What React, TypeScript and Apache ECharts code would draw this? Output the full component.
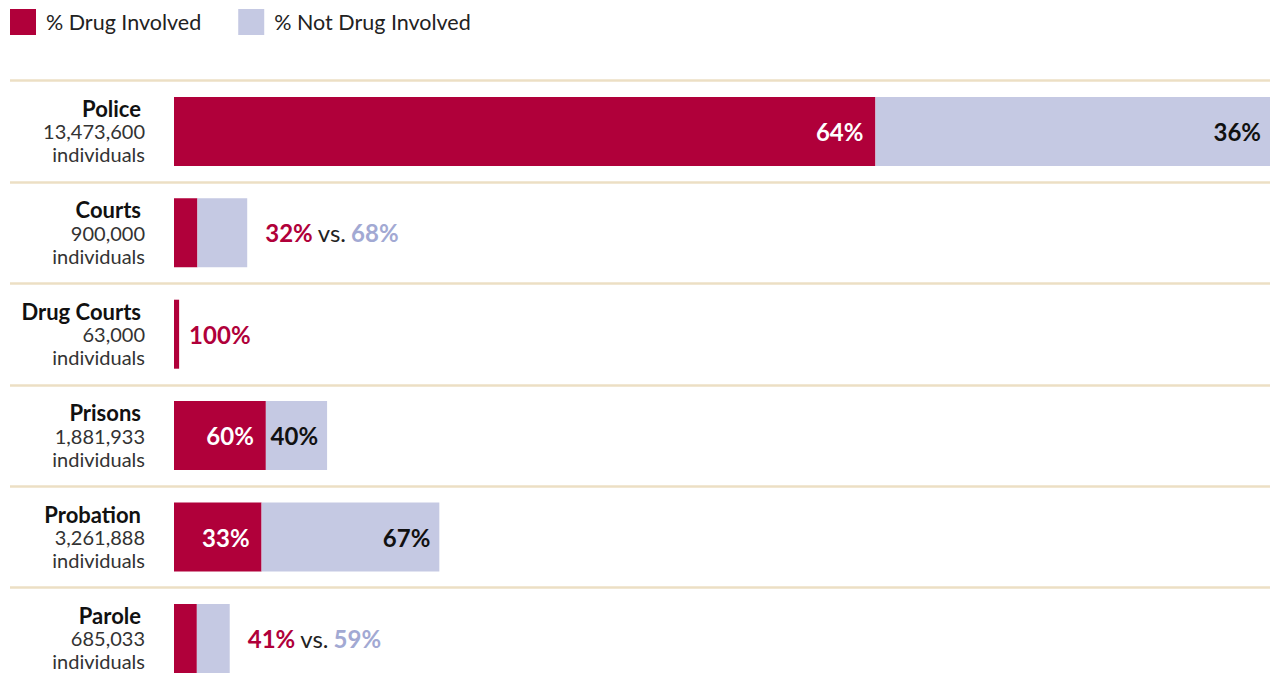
import React, { useEffect, useRef } from "react";
import * as echarts from "echarts";

const categories = ["Police", "Courts", "Drug Courts", "Prisons", "Probation", "Parole"];
const individuals = [13473600, 900000, 63000, 1881933, 3261888, 685033];
const drugPct = [64, 32, 100, 60, 33, 41];
const notDrugPct = [36, 68, 0, 40, 67, 59];
const legendNames = ["% Drug Involved", "% Not Drug Involved"];

const RED = "#b0003a";
const LAV = "#c5c9e3";
const LAV_TEXT = "#a2a9d3";
const SEP = "#ecdfc4";
const FONT = "Lato, 'Open Sans', sans-serif";

export default function App() {
  const ref = useRef<HTMLDivElement>(null);
  useEffect(() => {
    if (!ref.current) return;
    const chart = echarts.init(ref.current, undefined, { renderer: "svg" });
    const maxCount = Math.max(...individuals);
    const modes = individuals.map((c, i) =>
      drugPct[i] === 100 ? "single" : c / maxCount > 0.1 ? "inside" : "vs"
    );
    const pctFont = { fontFamily: FONT, fontSize: 24, fontWeight: "bold" as const };

    const drugData = individuals.map((c, i) => {
      const m = modes[i];
      let label: any = { show: false };
      if (m === "inside")
        label = { show: true, position: "insideRight", distance: 12, color: "#ffffff", formatter: `${drugPct[i]}%`, ...pctFont };
      else if (m === "single")
        label = { show: true, position: "right", distance: 10, color: RED, formatter: `${drugPct[i]}%`, ...pctFont };
      return { value: (c * drugPct[i]) / 100, label };
    });
    const notDrugData = individuals.map((c, i) => {
      const m = modes[i];
      let label: any = { show: false };
      if (m === "inside")
        label = { show: true, position: "insideRight", distance: 9, color: "#111111", formatter: `${notDrugPct[i]}%`, ...pctFont };
      else if (m === "vs")
        label = {
          show: true,
          position: "right",
          distance: 18,
          formatter: `{a|${drugPct[i]}%} {v|vs.} {b|${notDrugPct[i]}%}`,
          rich: {
            a: { color: RED, ...pctFont },
            v: { color: "#222222", fontFamily: FONT, fontSize: 24, padding: [0, 2, 0, 2] },
            b: { color: LAV_TEXT, ...pctFont },
          },
        };
      return { value: (c * notDrugPct[i]) / 100, label };
    });

    chart.setOption({
      animation: false,
      textStyle: { fontFamily: FONT },
      legend: {
        left: 10,
        top: 9,
        padding: 0,
        itemWidth: 26,
        itemHeight: 26,
        itemGap: 37,
        icon: "rect",
        data: legendNames,
        textStyle: { fontFamily: FONT, fontSize: 21.5, color: "#222222", padding: [0, 0, 0, 5] },
        selectedMode: false,
      },
      grid: [
        { left: 174, right: 0, top: 80.7, height: 608.4 },
        { left: 10, right: 0, top: 80.7, height: 608.4 },
      ],
      xAxis: [
        { type: "value", gridIndex: 0, min: 0, max: maxCount, show: false },
        { type: "value", gridIndex: 1, min: 0, max: 1, show: false },
      ],
      yAxis: [
        {
          type: "category",
          gridIndex: 0,
          inverse: true,
          data: categories,
          axisLine: { show: false },
          axisTick: { show: false },
          splitLine: { show: false },
          axisLabel: {
            margin: 29,
            align: "right",
            formatter: (v: string) => {
              const i = categories.indexOf(v);
              return `{n|${v}}\n{c|${individuals[i].toLocaleString("en-US")}}\n{c|individuals}`;
            },
            rich: {
              n: { fontFamily: FONT, fontSize: 22, fontWeight: "bold", color: "#111111", lineHeight: 23, align: "right", padding: [0, 4, 0, 0] },
              c: { fontFamily: FONT, fontSize: 20, color: "#333333", lineHeight: 23, align: "right" },
            },
          },
        },
        {
          type: "category",
          gridIndex: 1,
          inverse: true,
          data: categories,
          axisLine: { show: false },
          axisTick: { show: false },
          axisLabel: { show: false },
          splitLine: { show: true, interval: 0, lineStyle: { color: SEP, width: 2.5 } },
        },
      ],
      series: [
        {
          name: legendNames[0],
          type: "bar",
          stack: "total",
          xAxisIndex: 0,
          yAxisIndex: 0,
          barWidth: 69,
          itemStyle: { color: RED },
          data: drugData,
        },
        {
          name: legendNames[1],
          type: "bar",
          stack: "total",
          xAxisIndex: 0,
          yAxisIndex: 0,
          barWidth: 69,
          itemStyle: { color: LAV },
          data: notDrugData,
        },
        {
          type: "bar",
          xAxisIndex: 1,
          yAxisIndex: 1,
          silent: true,
          data: [],
        },
      ],
    });
    return () => chart.dispose();
  }, []);
  return (
    <div
      ref={ref}
      style={{ position: "fixed", left: 0, top: 0, width: 1270, height: 700, background: "#ffffff" }}
    />
  );
}
